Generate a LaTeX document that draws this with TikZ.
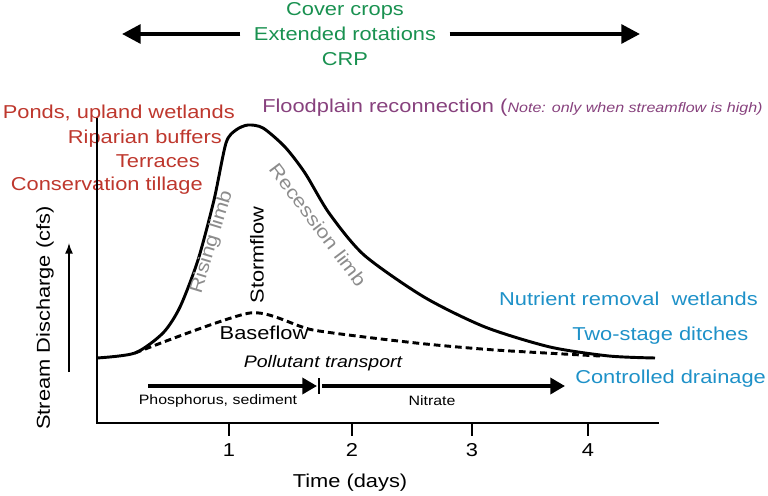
\documentclass[tikz,border=0pt]{standalone}
\usepackage{fontspec}
\setmainfont{Liberation Sans}[FakeStretch=1.17]
\usetikzlibrary{arrows.meta}

\definecolor{bmpgreen}{RGB}{25,145,80}
\definecolor{bmpred}{RGB}{190,55,45}
\definecolor{bmppurple}{RGB}{135,65,125}
\definecolor{bmpblue}{RGB}{30,145,200}
\definecolor{limbgray}{RGB}{140,140,140}

\begin{document}
\begin{tikzpicture}[x=0.75pt, y=-0.75pt,
    lbl/.style={font=\fontsize{14}{16}\selectfont, inner sep=0pt},
    smalllbl/.style={font=\fontsize{10.2}{12}\selectfont, inner sep=0pt},
    hydro/.style={line width=2.2pt, line join=round},
    basedash/.style={line width=2.2pt, dash pattern=on 5pt off 3pt},
    axisline/.style={line width=1.1pt},
    bigarrow/.style={line width=3pt, -{Triangle[length=14pt, width=14pt]}},
    flowarrow/.style={line width=2.6pt, -{Triangle[length=11pt, width=12pt]}}]
    \useasboundingbox (0,0) rectangle (768,496);

    % TOP: field-wide practices
    \begin{scope}[every node/.style={lbl, text=bmpgreen}]
        \node (ext) at (345,34) {Extended rotations};
        \node[anchor=base] (cover) at (345,16) {Cover crops};
        \node[anchor=base] (crp) at (345,65) {CRP};
    \end{scope}
    \coordinate (farleft) at (122,34);
    \coordinate (farright) at (640,34);
    \draw[bigarrow] ([xshift=-10pt]ext.west) -- (farleft);
    \draw[bigarrow] ([xshift=10pt]ext.east) -- (farright);

    % LEFT: upland practices
    \begin{scope}[every node/.style={lbl, text=bmpred, anchor=base east}]
        \node (ponds) at (235,118) {Ponds, upland wetlands};
        \node (riparian) at (222,143) {Riparian buffers};
        \node (terraces) at (200,167) {Terraces};
        \node (tillage) at (203,190) {Conservation tillage};
    \end{scope}

    % Floodplain
    \node[lbl, text=bmppurple, anchor=base west] (flood) at (262,112)
        {Floodplain reconnection (\fontsize{10.3}{12}\selectfont\itshape Note: only when streamflow is high)};

    % RIGHT: in-stream and drainage practices
    \begin{scope}[every node/.style={lbl, text=bmpblue}]
        \node[anchor=base east] (nutrient) at (758,305) {Nutrient removal\ \ wetlands};
        \node[anchor=base west] (twostage) at (572,340) {Two-stage ditches};
        \node[anchor=base west] (drainage) at (575,383) {Controlled drainage};
    \end{scope}

    % Axes
    \draw[axisline] (97,118) -- (97,423) -- (659,423);
    \foreach \t/\x in {1/229, 2/352, 3/472, 4/588} {
        \draw[axisline] (\x,423) -- (\x,436);
        \node[lbl] (tick\t) at (\x,450) {\t};
    }
    \node[lbl] (time) at (350,483) {Time (days)};
    \node[lbl, rotate=90] (discharge) at (45,318) {Stream Discharge (cfs)};
    \coordinate (qlow) at (69,372);
    \coordinate (qhigh) at (69,243);
    \draw[axisline, -{Latex[length=8pt, width=6pt]}] (qlow) -- (qhigh);

    % Hydrograph and baseflow
    \draw[hydro] plot[smooth, tension=0.45] coordinates {
        (97,358) (135,353) (163,333) (180,307) (198,260) (214,200)
        (226,143) (236,130) (248,125) (263,128) (285,147) (305,173)
        (329,213) (364,255) (424,297) (485,327) (550,347) (609,356) (655,358)};
    \draw[basedash] plot[smooth, tension=0.4] coordinates {
        (135,353) (250,313) (313,330) (416,343) (495,350) (600,356)};

    % Curve labels
    \node[lbl, text=limbgray, rotate=73] (rising) at (212,242) {Rising limb};
    \node[lbl, text=limbgray, rotate=-53] (recession) at (318,225) {Recession limb};
    \node[lbl, rotate=90] (storm) at (257,255) {Stormflow};
    \node[lbl] (base) at (264,333) {Baseflow};

    % Pollutant transport
    \node[lbl, font=\fontsize{12.5}{14}\selectfont\itshape] (transport) at (323,363) {Pollutant transport};
    \coordinate (pstart) at (148,386);
    \coordinate (pend) at (317,386);
    \coordinate (split) at (319,386);
    \coordinate (nstart) at (322,386);
    \coordinate (nend) at (565,386);
    \draw[flowarrow] (pstart) -- (pend);
    \draw[line width=2pt] ([yshift=6pt]split) -- ([yshift=-6pt]split);
    \draw[flowarrow] (nstart) -- (nend);
    \node[smalllbl] (phos) at (218,401) {Phosphorus, sediment};
    \node[smalllbl] (nitrate) at (432,401) {Nitrate};
\end{tikzpicture}
\end{document}
